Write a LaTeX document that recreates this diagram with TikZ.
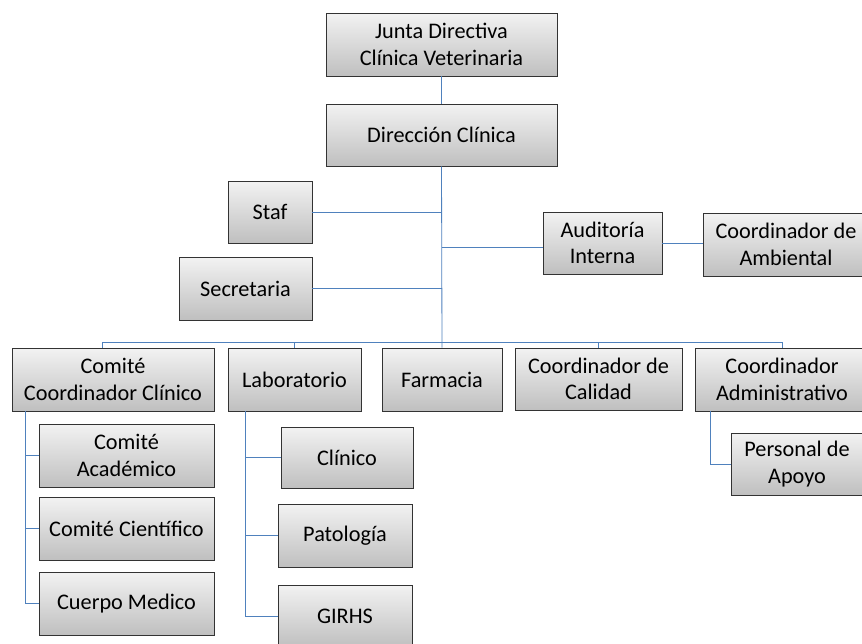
\documentclass[tikz,border=0pt]{standalone}
\usepackage{fontspec}
\setmainfont{Carlito}
\usetikzlibrary{shadows}

\definecolor{linkblue}{HTML}{4F81BD}
\newcommand{\pxu}{0.03cm}

\tikzset{
  orgbox/.style={draw=black!80, line width=0.7pt, top color=black!5, bottom color=black!25,
    drop shadow={opacity=0.35, shadow xshift=0.8pt, shadow yshift=-1.2pt},
    align=center, inner sep=2pt, font=\fontsize{19}{22.5}\selectfont},
  link/.style={linkblue, line width=0.7pt}
}

\begin{document}
\begin{tikzpicture}[x=\pxu, y=-\pxu]
    \useasboundingbox[fill=white] (0,0) rectangle (862,644);

    % top of the chart
    \node[orgbox, minimum width=231*\pxu, minimum height=63*\pxu] (junta) at (441.5,44.5) {Junta Directiva\\Clínica Veterinaria};
    \node[orgbox, minimum width=231*\pxu, minimum height=62*\pxu] (dir) at (441.5,135) {Dirección Clínica};

    \node[orgbox, minimum width=84*\pxu, minimum height=62*\pxu] (staf) at (270,212) {Staf};
    \node[orgbox, minimum width=133*\pxu, minimum height=63*\pxu] (secr) at (245.5,288.5) {Secretaria};
    \node[orgbox, minimum width=119*\pxu, minimum height=62*\pxu] (aud) at (602.5,243) {Auditoría\\Interna};
    \node[orgbox, minimum width=166*\pxu, minimum height=63*\pxu] (amb) at (786,244.5) {Coordinador de\\Ambiental};

    % second level
    \node[orgbox, minimum width=202*\pxu, minimum height=63*\pxu] (ccc) at (113,379.5) {Comité\\Coordinador Clínico};
    \node[orgbox, minimum width=133*\pxu, minimum height=63*\pxu] (lab) at (294.5,379.5) {Laboratorio};
    \node[orgbox, minimum width=120*\pxu, minimum height=63*\pxu] (farm) at (442,379.5) {Farmacia};
    \node[orgbox, minimum width=167*\pxu, minimum height=62*\pxu] (cal) at (598.5,379) {Coordinador de\\Calidad};
    \node[orgbox, minimum width=174*\pxu, minimum height=63*\pxu] (adm) at (782,379.5) {Coordinador\\Administrativo};

    % third level
    \node[orgbox, minimum width=175*\pxu, minimum height=63*\pxu] (acad) at (126.5,455.5) {Comité\\Académico};
    \node[orgbox, minimum width=175*\pxu, minimum height=63*\pxu] (cient) at (126.5,528.5) {Comité Científico};
    \node[orgbox, minimum width=175*\pxu, minimum height=63*\pxu] (cuerpo) at (126.5,603.5) {Cuerpo Medico};

    \node[orgbox, minimum width=132*\pxu, minimum height=61*\pxu] (clin) at (347,457.5) {Clínico};
    \node[orgbox, minimum width=134*\pxu, minimum height=63*\pxu] (pat) at (345,535.5) {Patología};
    \node[orgbox, minimum width=134*\pxu, minimum height=62*\pxu] (girhs) at (345,616) {GIRHS};

    \node[orgbox, minimum width=132*\pxu, minimum height=62*\pxu] (apoyo) at (797,464) {Personal de\\Apoyo};

    % connectors
    \coordinate (bus) at (0,342);
    \draw[link] (junta.south) -- (dir.north);
    \draw[link] (dir.south) -- (farm.north);
    \draw[link] (staf.east) -- (staf.east -| dir.south);
    \draw[link] (secr.east) -- (secr.east -| dir.south);
    \draw[link] ([yshift=-4*\pxu]aud.west -| dir.south) -- ([yshift=-4*\pxu]aud.west);
    \draw[link] (aud.east) -- (aud.east -| amb.west);

    \draw[link] ([xshift=-11*\pxu]ccc.north) -- ([xshift=-11*\pxu]ccc.north |- bus) -- (adm.north |- bus) -- (adm.north);
    \draw[link] (lab.north) -- (lab.north |- bus);
    \draw[link] (cal.north) -- (cal.north |- bus);

    \draw[link] ([xshift=14*\pxu]ccc.south west) |- (acad.west);
    \draw[link] ([xshift=14*\pxu]ccc.south west) |- (cient.west);
    \draw[link] ([xshift=14*\pxu]ccc.south west) |- (cuerpo.west);

    \draw[link] ([xshift=18*\pxu]lab.south west) |- (clin.west);
    \draw[link] ([xshift=18*\pxu]lab.south west) |- (pat.west);
    \draw[link] ([xshift=18*\pxu]lab.south west) |- (girhs.west);

    \draw[link] ([xshift=16*\pxu]adm.south west) |- (apoyo.west);
\end{tikzpicture}
\end{document}
